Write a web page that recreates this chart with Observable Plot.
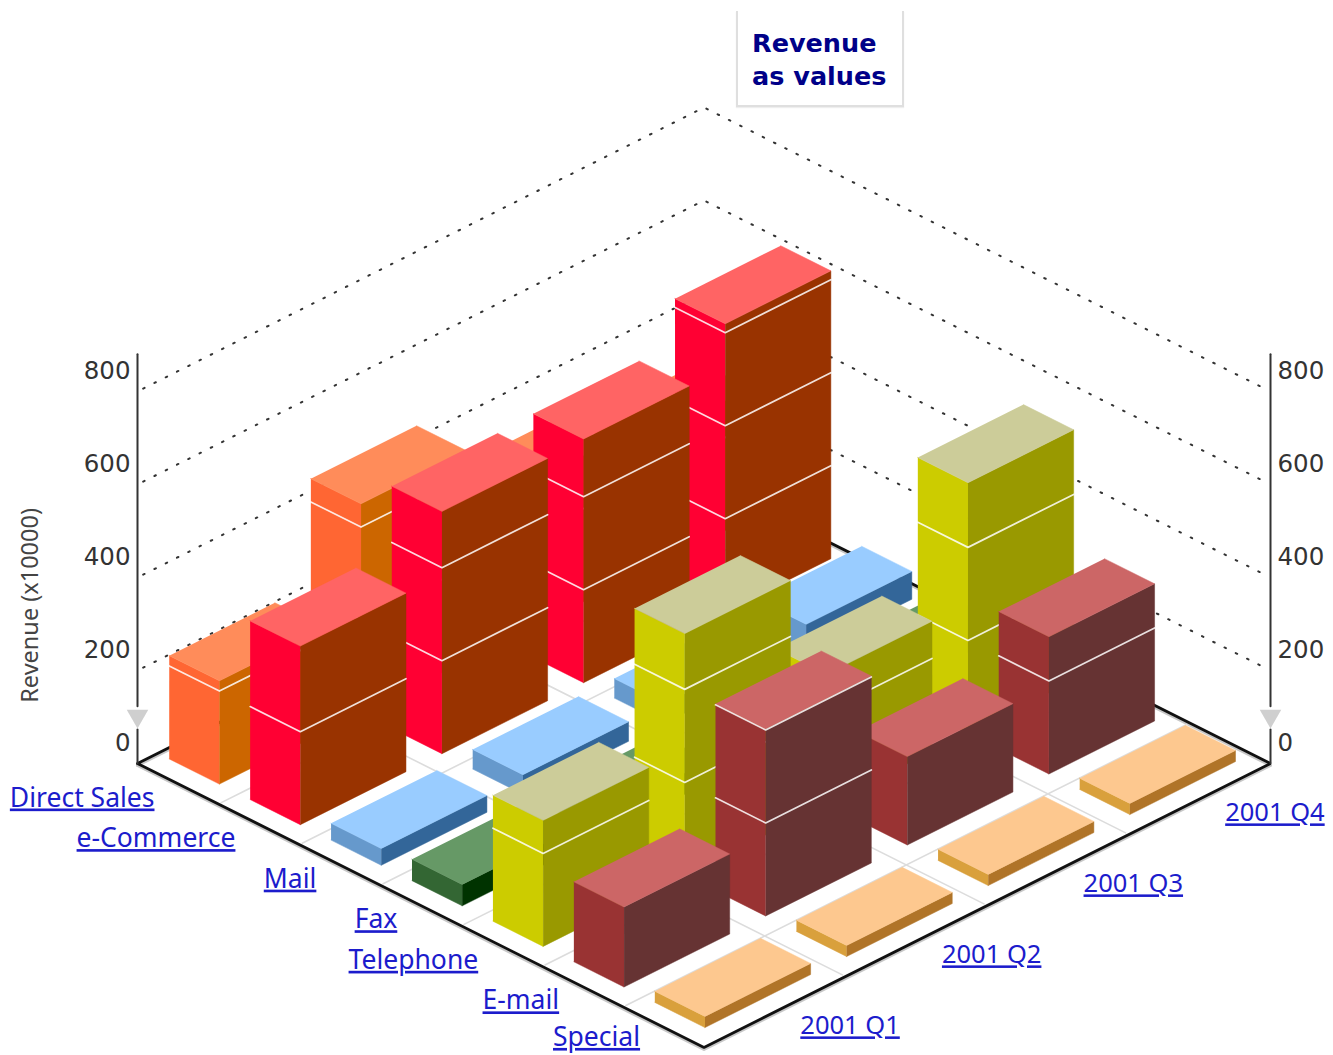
<!DOCTYPE html>
<html>
<head>
<meta charset="utf-8">
<script src="https://cdn.jsdelivr.net/npm/d3@7"></script>
<script src="https://cdn.jsdelivr.net/npm/@observablehq/plot@0.6"></script>
<style>
html,body{margin:0;padding:0;background:#fff;}
#wrap{position:relative;width:1333px;height:1055px;overflow:hidden;}
#title{position:absolute;left:736px;top:11px;width:164px;height:94px;border:2px solid #dfdfdf;border-top:none;box-shadow:0 1px 1px #eee;
  font:bold 25.5px "DejaVu Sans";color:#000088;line-height:33px;}
#title div{padding-left:14px;}
#title div:first-child{margin-top:16px}
</style>
</head>
<body>
<div id="wrap"><div id="title"><div>Revenue</div><div>as values</div></div></div>
<script>
const channels = ["Direct Sales","e-Commerce","Mail","Fax","Telephone","E-mail","Special"];
const quarters = ["2001 Q1","2001 Q2","2001 Q3","2001 Q4"];
const directSales = [222,450,315,280];
const eCommerce   = [384,521,524,619];
const mail        = [36,42,42,60];
const fax         = [46,46,46,46];
const telephone   = [271,520,280,539];
const email       = [172,402,190,295];
const special     = [24,24,24,24];
const revenue = [directSales,eCommerce,mail,fax,telephone,email,special];
const ticks = [0,200,400,600,800];
const palette = [
  {left:"#ff6633",right:"#cc6600",top:"#ff8c5a"},
  {left:"#ff0033",right:"#993300",top:"#ff6464"},
  {left:"#6699cc",right:"#336699",top:"#99ccff"},
  {left:"#336633",right:"#003300",top:"#669966"},
  {left:"#cccc00",right:"#999900",top:"#cccc99"},
  {left:"#993333",right:"#663333",top:"#cc6666"},
  {left:"#d9a03c",right:"#b07428",top:"#fdc88f"}
];
const nU = channels.length, nV = quarters.length;
const k = 1.31/800;
const px = (u,v) => u/nU + v/nV;
const py = (u,v,h=0) => v/nV - u/nU + h*k;
const pt = (u,v,h=0,extra={}) => ({X:px(u,v),Y:py(u,v,h),...extra});
const startU = 0.14, endU = 0.76, startV = 0.144, endV = 0.89;

const marks = [];
// floor
const floor = [pt(0,0),pt(nU,0),pt(nU,nV),pt(0,nV),pt(0,0)];
marks.push(Plot.line(floor,{x:"X",y:"Y",fill:"#fff",stroke:"#999",strokeWidth:3,strokeOpacity:0.55,dy:2}));
const grid=[];
for(let u=1;u<nU;u++){grid.push(pt(u,0.02,0,{id:"u"+u}),pt(u,nV-0.02,0,{id:"u"+u}));}
for(let v=1;v<nV;v++){grid.push(pt(0.04,v,0,{id:"v"+v}),pt(nU-0.04,v,0,{id:"v"+v}));}
marks.push(Plot.line(grid,{x:"X",y:"Y",z:"id",stroke:"#dcdcdc",strokeWidth:1.6}));
marks.push(Plot.line(floor,{x:"X",y:"Y",stroke:"#111",strokeWidth:2.8,strokeLinejoin:"miter"}));
// walls
const walls=[];
for(const t of ticks.slice(1)){walls.push(pt(0,0.04,t,{id:t}),pt(0,nV,t,{id:t}),pt(nU-0.07,nV,t,{id:t}));}
marks.push(Plot.line(walls,{x:"X",y:"Y",z:"id",stroke:"#333",strokeWidth:2,strokeDasharray:"1.6 11"}));
// axes
const axisTop = 880, axisBreakHigh = 123, axisBreakLow = 73, arrowAt = 102;
for(const [u,v] of [[0,0],[nU,nV]]){
  marks.push(Plot.line([pt(u,v,axisTop),pt(u,v,axisBreakHigh)],{x:"X",y:"Y",stroke:"#333",strokeWidth:2}));
  marks.push(Plot.line([pt(u,v,axisBreakLow),pt(u,v,0)],{x:"X",y:"Y",stroke:"#333",strokeWidth:2}));
  marks.push(Plot.dot([pt(u,v,arrowAt)],{x:"X",y:"Y",symbol:"triangle",r:8,rotate:180,fill:"#cfcfcf",stroke:"none"}));
}
// bars, back to front
for(let u=0;u<nU;u++){
  for(let v=nV-1;v>=0;v--){
    const h=revenue[u][v], c=palette[u];
    const u0=u+startU,u1=u+endU,v0=v+startV,v1=v+endV;
    const faces=[
      ...[pt(u0,v0),pt(u1,v0),pt(u1,v0,h),pt(u0,v0,h)].map(d=>({...d,face:"l",color:c.left})),
      ...[pt(u1,v0),pt(u1,v1),pt(u1,v1,h),pt(u1,v0,h)].map(d=>({...d,face:"r",color:c.right})),
      ...[pt(u0,v0,h),pt(u1,v0,h),pt(u1,v1,h),pt(u0,v1,h)].map(d=>({...d,face:"t",color:c.top}))
    ];
    marks.push(Plot.line(faces,{x:"X",y:"Y",z:"face",fill:"color",stroke:"color",strokeWidth:0.5}));
    const lines=ticks.filter(t=>t>0&&t<=h).flatMap(t=>[pt(u0,v0,t,{id:t}),pt(u1,v0,t,{id:t}),pt(u1,v1,t,{id:t})]);
    if(lines.length) marks.push(Plot.line(lines,{x:"X",y:"Y",z:"id",stroke:"#fff",strokeWidth:1.7,strokeOpacity:0.85}));
  }
}
// text
const font={fontFamily:"DejaVu Sans",fontSize:24.5,fill:"#333",stroke:"none"};
marks.push(Plot.text(ticks.map(t=>pt(0,0,t,{t})),{x:"X",y:"Y",text:d=>String(d.t),textAnchor:"end",dx:-7,dy:-20,...font}));
marks.push(Plot.text(ticks.map(t=>pt(nU,nV,t,{t})),{x:"X",y:"Y",text:d=>String(d.t),textAnchor:"start",dx:7,dy:-20,...font}));
marks.push(Plot.text([pt(0,0,340)],{x:"X",y:"Y",text:()=>"Revenue (x10000)",rotate:-90,dx:-107,fontFamily:"Noto Sans",fontSize:23.5,fill:"#444"}));
const linkFont={fontFamily:"Noto Sans",fill:"#1c1ccc"};
const channelLabels=channels.map((name,i)=>pt(i+0.21,0,0,{name}));
marks.push(Plot.text(channelLabels.slice(0,-1),{x:"X",y:"Y",text:"name",textAnchor:"end",dy:26,fontSize:26.5,...linkFont}));
marks.push(Plot.text(channelLabels.slice(-1),{x:"X",y:"Y",text:"name",textAnchor:"end",dy:22,fontSize:26.5,...linkFont}));
marks.push(Plot.text(quarters.map((name,i)=>pt(nU,i+0.68,0,{name})),{x:"X",y:"Y",text:"name",textAnchor:"start",dy:27,fontSize:25.5,...linkFont}));

const chart=Plot.plot({
  width:1333,height:1055,margin:0,
  x:{domain:[0,2],range:[137,1270],axis:null},
  y:{domain:[-1,1],range:[1047,479],axis:null},
  style:{background:"transparent",overflow:"hidden"},
  marks
});
const links=new Set([...channels,...quarters]);
d3.select(chart).selectAll("text").filter(function(){return links.has(this.textContent);}).style("text-decoration","underline");
document.getElementById("wrap").prepend(chart);
</script>
</body>
</html>
